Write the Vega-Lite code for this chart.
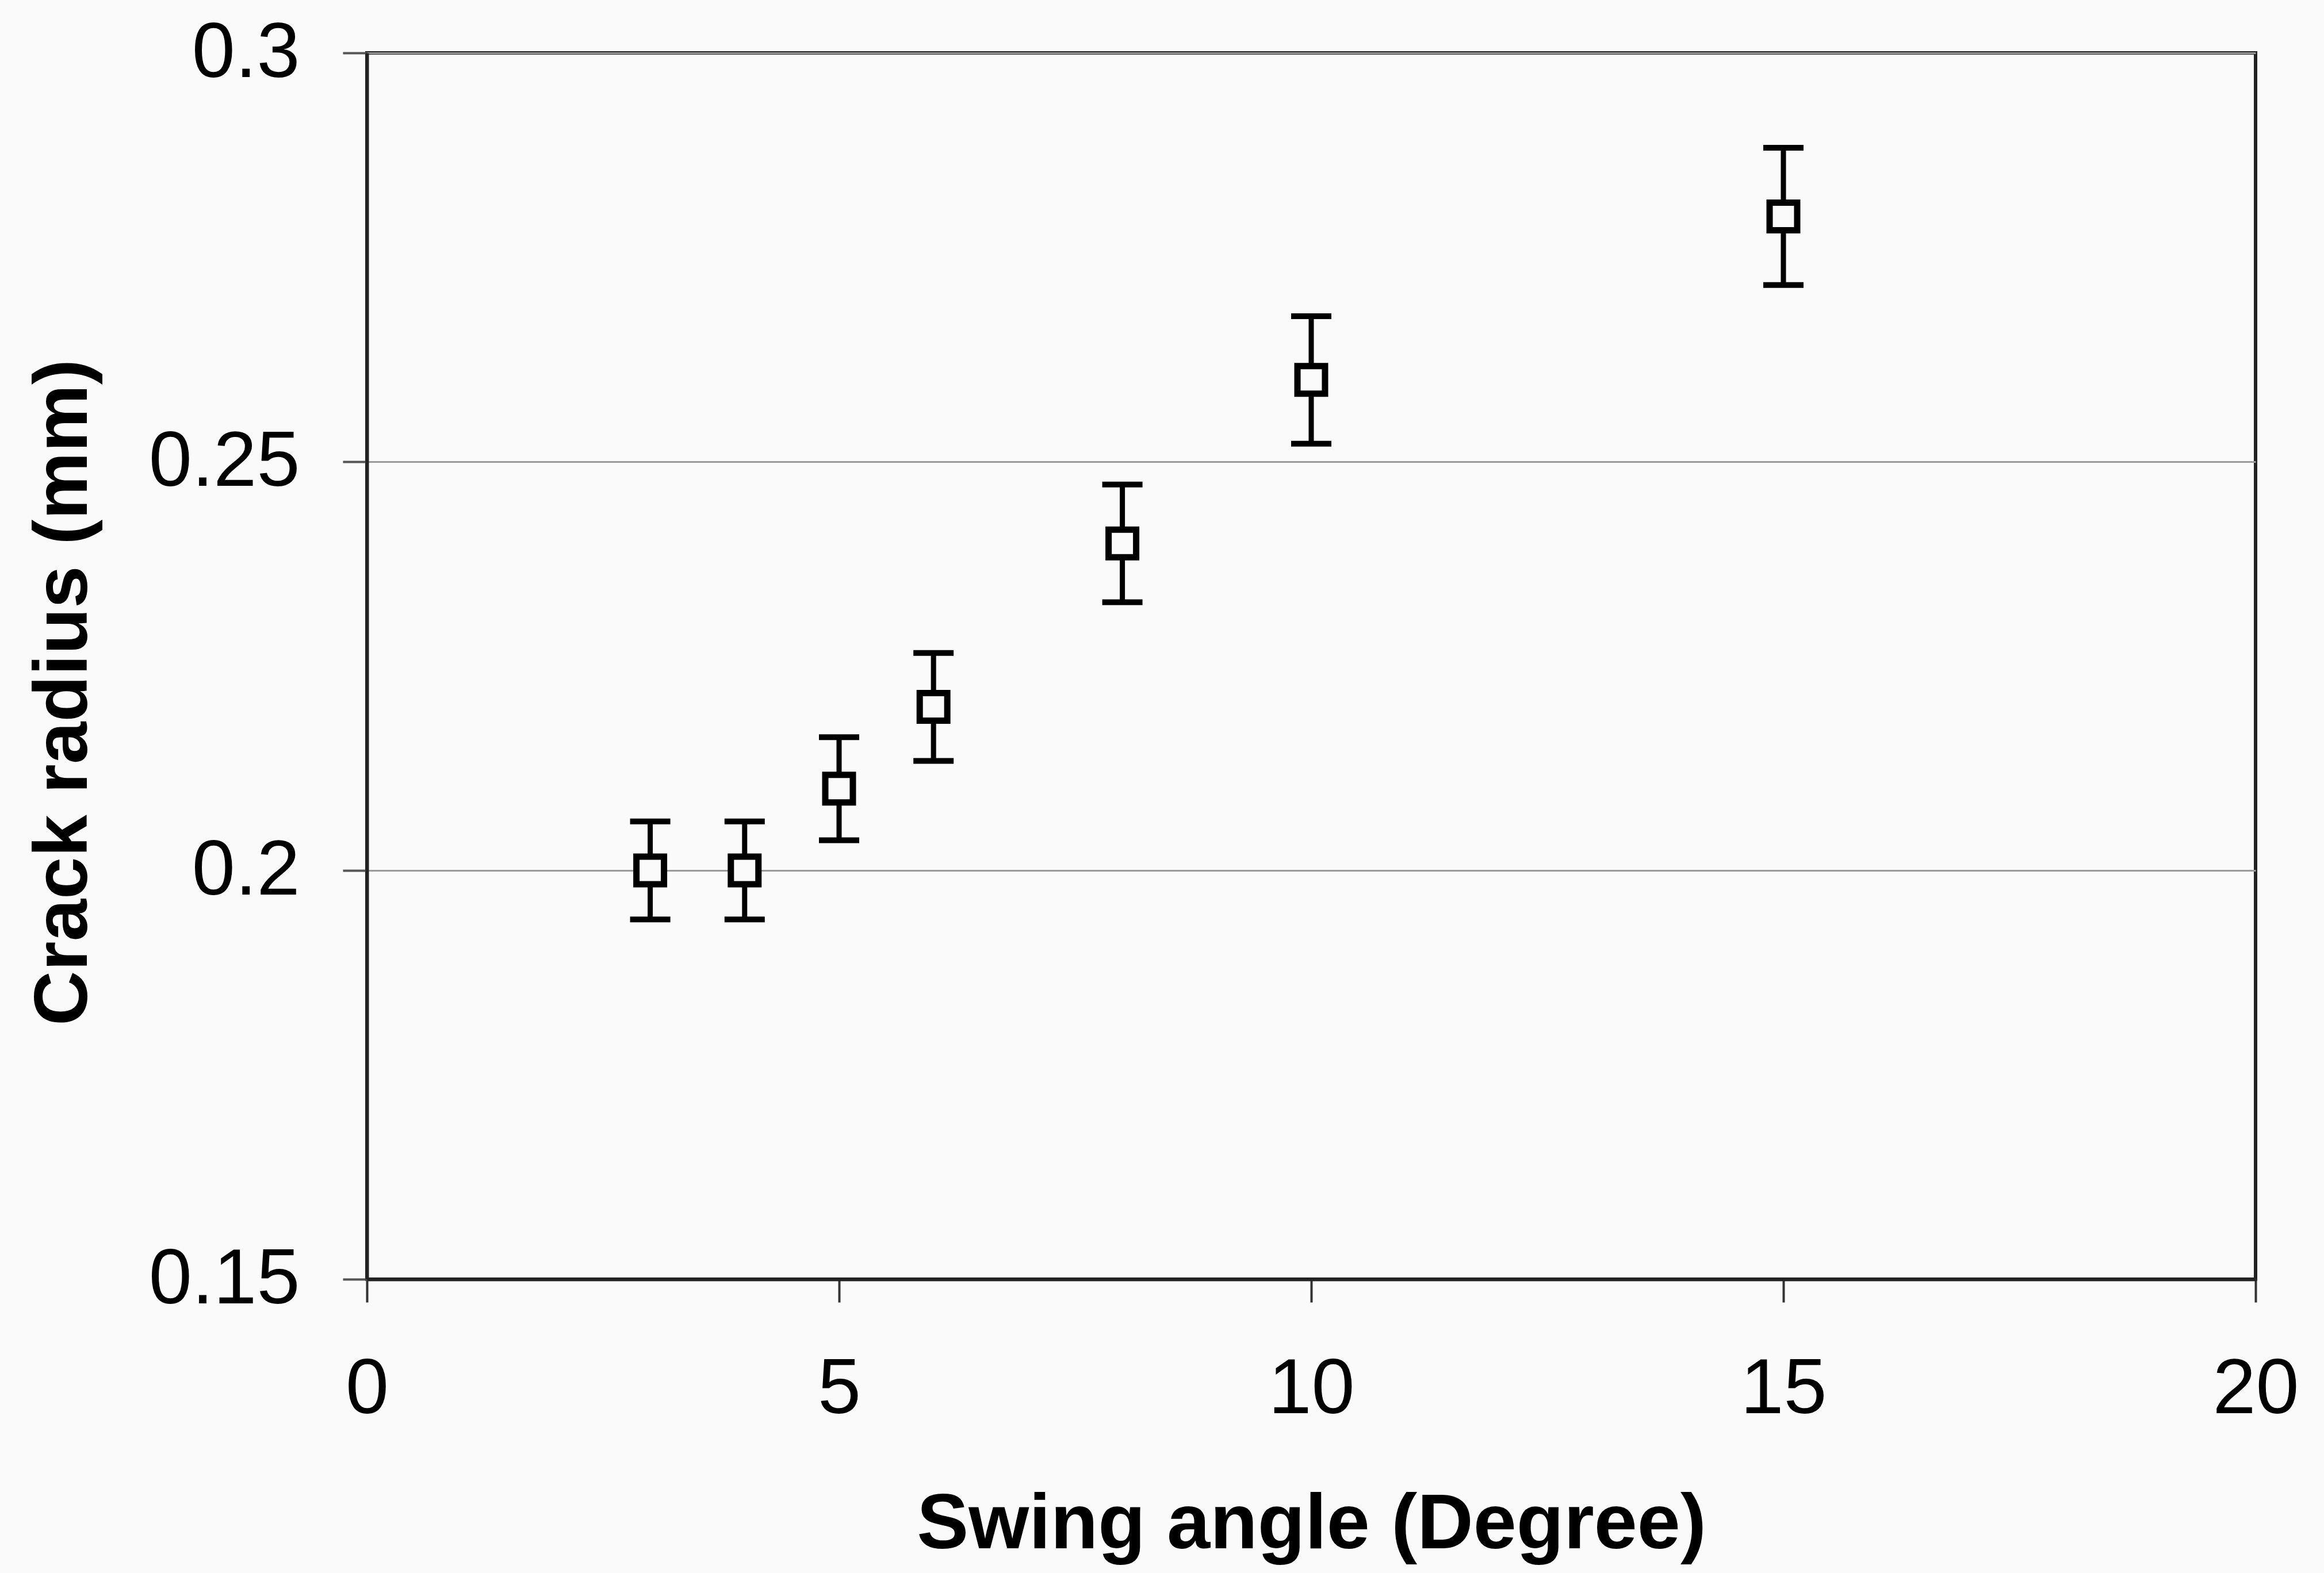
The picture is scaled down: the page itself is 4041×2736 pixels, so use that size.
{
  "$schema": "https://vega.github.io/schema/vega-lite/v6.json",
  "width": 3284,
  "height": 2133,
  "autosize": {"type": "none"},
  "padding": {"left": 638, "top": 92, "right": 119, "bottom": 511},
  "background": "#fafafa",
  "config": {
    "view": {"stroke": "#222222", "strokeWidth": 6},
    "font": "Liberation Sans",
    "axis": {"labelColor": "#000000", "titleColor": "#000000", "labelFont": "Liberation Sans", "titleFont": "Liberation Sans", "labelLimit": 0, "titleLimit": 0}
  },
  "data": {
    "values": [
      {"angle": 3, "radius": 0.2, "lo": 0.194, "hi": 0.206},
      {"angle": 4, "radius": 0.2, "lo": 0.194, "hi": 0.206},
      {"angle": 5, "radius": 0.21, "lo": 0.2037, "hi": 0.2163},
      {"angle": 6, "radius": 0.22, "lo": 0.2134, "hi": 0.2266},
      {"angle": 8, "radius": 0.24, "lo": 0.2328, "hi": 0.2472},
      {"angle": 10, "radius": 0.26, "lo": 0.2522, "hi": 0.2678},
      {"angle": 15, "radius": 0.28, "lo": 0.2716, "hi": 0.2884}
    ]
  },
  "encoding": {
    "x": {
      "field": "angle",
      "type": "quantitative",
      "scale": {"domain": [0, 20], "nice": false, "zero": false},
      "axis": {
        "values": [0, 5, 10, 15, 20],
        "labelFontSize": 135,
        "labelFlush": false,
        "labelOverlap": false,
        "labelPadding": 85,
        "tickSize": 40,
        "tickWidth": 4,
        "tickColor": "#333333",
        "domainColor": "#222222",
        "domainWidth": 6,
        "grid": false,
        "title": "Swing angle (Degree)",
        "titleFontSize": 135,
        "titleFontWeight": "bold",
        "titlePadding": 160
      }
    }
  },
  "layer": [
    {
      "mark": {"type": "rule", "stroke": "#000000", "strokeWidth": 9},
      "encoding": {
        "y": {
          "field": "lo",
          "type": "quantitative",
          "scale": {"domain": [0.15, 0.3], "nice": false, "zero": false},
          "axis": {
            "values": [0.15, 0.2, 0.25, 0.3],
            "format": "~g",
            "labelFontSize": 135,
            "labelFlush": false,
            "labelOverlap": false,
            "labelPadding": 75,
            "tickSize": 42,
            "tickWidth": 4,
            "tickColor": "#555555",
            "domainColor": "#222222",
            "domainWidth": 6,
            "grid": true,
            "gridColor": "#9a9a9a",
            "gridWidth": 3,
            "title": "Crack radius (mm)",
            "titleFontSize": 132,
            "titleFontWeight": "bold",
            "titleAngle": -90,
            "titleX": -460,
            "titleY": 1112,
            "titleAlign": "center",
            "titleBaseline": "bottom"
          }
        },
        "y2": {"field": "hi"}
      }
    },
    {
      "mark": {"type": "tick", "orient": "horizontal", "size": 70, "thickness": 10, "color": "#000000", "opacity": 1},
      "encoding": {"y": {"field": "lo", "type": "quantitative"}}
    },
    {
      "mark": {"type": "tick", "orient": "horizontal", "size": 70, "thickness": 10, "color": "#000000", "opacity": 1},
      "encoding": {"y": {"field": "hi", "type": "quantitative"}}
    },
    {
      "mark": {"type": "point", "shape": "square", "size": 2300, "filled": true, "fill": "#fafafa", "stroke": "#000000", "strokeWidth": 11, "opacity": 1},
      "encoding": {"y": {"field": "radius", "type": "quantitative"}}
    }
  ]
}
